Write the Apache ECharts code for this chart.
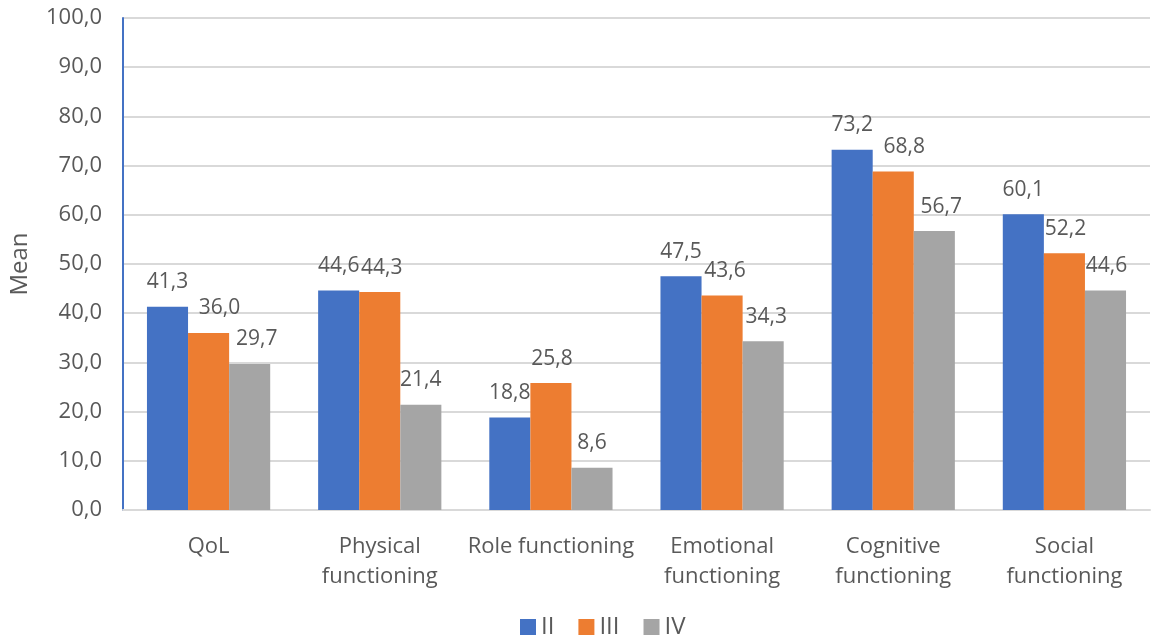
<!DOCTYPE html>
<html>
<head>
<meta charset="utf-8">
<script src="https://cdn.jsdelivr.net/npm/echarts@6/dist/echarts.min.js"></script>
<style>
  html, body { margin: 0; padding: 0; background: #ffffff; }
  #chart { width: 1158px; height: 638px; }
</style>
</head>
<body>
<div id="chart"></div>
<script>
// Mean scores by domain for stages II, III and IV
const categories = ['QoL', 'Physical\nfunctioning', 'Role functioning', 'Emotional\nfunctioning', 'Cognitive\nfunctioning', 'Social\nfunctioning'];
const stageII  = [41.3, 44.6, 18.8, 47.5, 73.2, 60.1];
const stageIII = [36.0, 44.3, 25.8, 43.6, 68.8, 52.2];
const stageIV  = [29.7, 21.4, 8.6, 34.3, 56.7, 44.6];
const seriesNames = ['II', 'III', 'IV'];
const seriesColors = ['#4472C4', '#ED7D31', '#A5A5A5'];

// horizontal nudges (px) that keep neighbouring value labels apart
const labelNudge = [
  [0, 0, 0, 0, 0, 0],
  [11, 2, 1, 3, 11, 1],
  [7, 0, 0, 3, 7, 1]
];

const FONT = '"Open Sans", "Liberation Sans", sans-serif';
const TEXT = '#595959';

const fmt = v => v.toFixed(1).replace('.', ',');

function makeSeries(idx, data) {
  return {
    name: seriesNames[idx],
    type: 'bar',
    data: data.map((v, i) => ({
      value: v,
      label: { offset: [labelNudge[idx][i], 0] }
    })),
    barGap: '0%',
    barCategoryGap: '28%',
    itemStyle: { color: seriesColors[idx] },
    label: {
      show: true,
      position: 'top',
      distance: 14,
      fontFamily: FONT,
      fontSize: 21,
      color: TEXT,
      formatter: p => fmt(p.value)
    }
  };
}

const chart = echarts.init(document.getElementById('chart'));
chart.setOption({
  animation: false,
  textStyle: { fontFamily: FONT },
  grid: { left: 120, right: 8, top: 18, bottom: 128 },
  legend: {
    top: 610,
    left: 515,
    itemWidth: 16,
    itemHeight: 16,
    itemGap: 24,
    icon: 'rect',
    textStyle: { fontFamily: FONT, fontSize: 24, color: TEXT },
    data: seriesNames
  },
  xAxis: {
    type: 'category',
    data: categories,
    axisLine: { lineStyle: { color: '#D9D9D9', width: 2 } },
    axisTick: { show: false },
    axisLabel: {
      fontFamily: FONT,
      fontSize: 22,
      color: TEXT,
      margin: 22,
      lineHeight: 30,
      interval: 0
    }
  },
  yAxis: {
    type: 'value',
    min: 0,
    max: 100,
    interval: 10,
    name: 'Mean',
    nameLocation: 'middle',
    nameGap: 91,
    nameRotate: 90,
    nameTextStyle: { fontFamily: FONT, fontSize: 24, color: TEXT },
    axisLine: { show: true, lineStyle: { color: '#4472C4', width: 2 } },
    axisTick: { show: false },
    splitLine: { lineStyle: { color: '#D9D9D9', width: 2 } },
    axisLabel: {
      fontFamily: FONT,
      fontSize: 22,
      color: TEXT,
      margin: 21,
      formatter: v => fmt(v)
    }
  },
  series: [
    makeSeries(0, stageII),
    makeSeries(1, stageIII),
    makeSeries(2, stageIV)
  ]
});
</script>
</body>
</html>
